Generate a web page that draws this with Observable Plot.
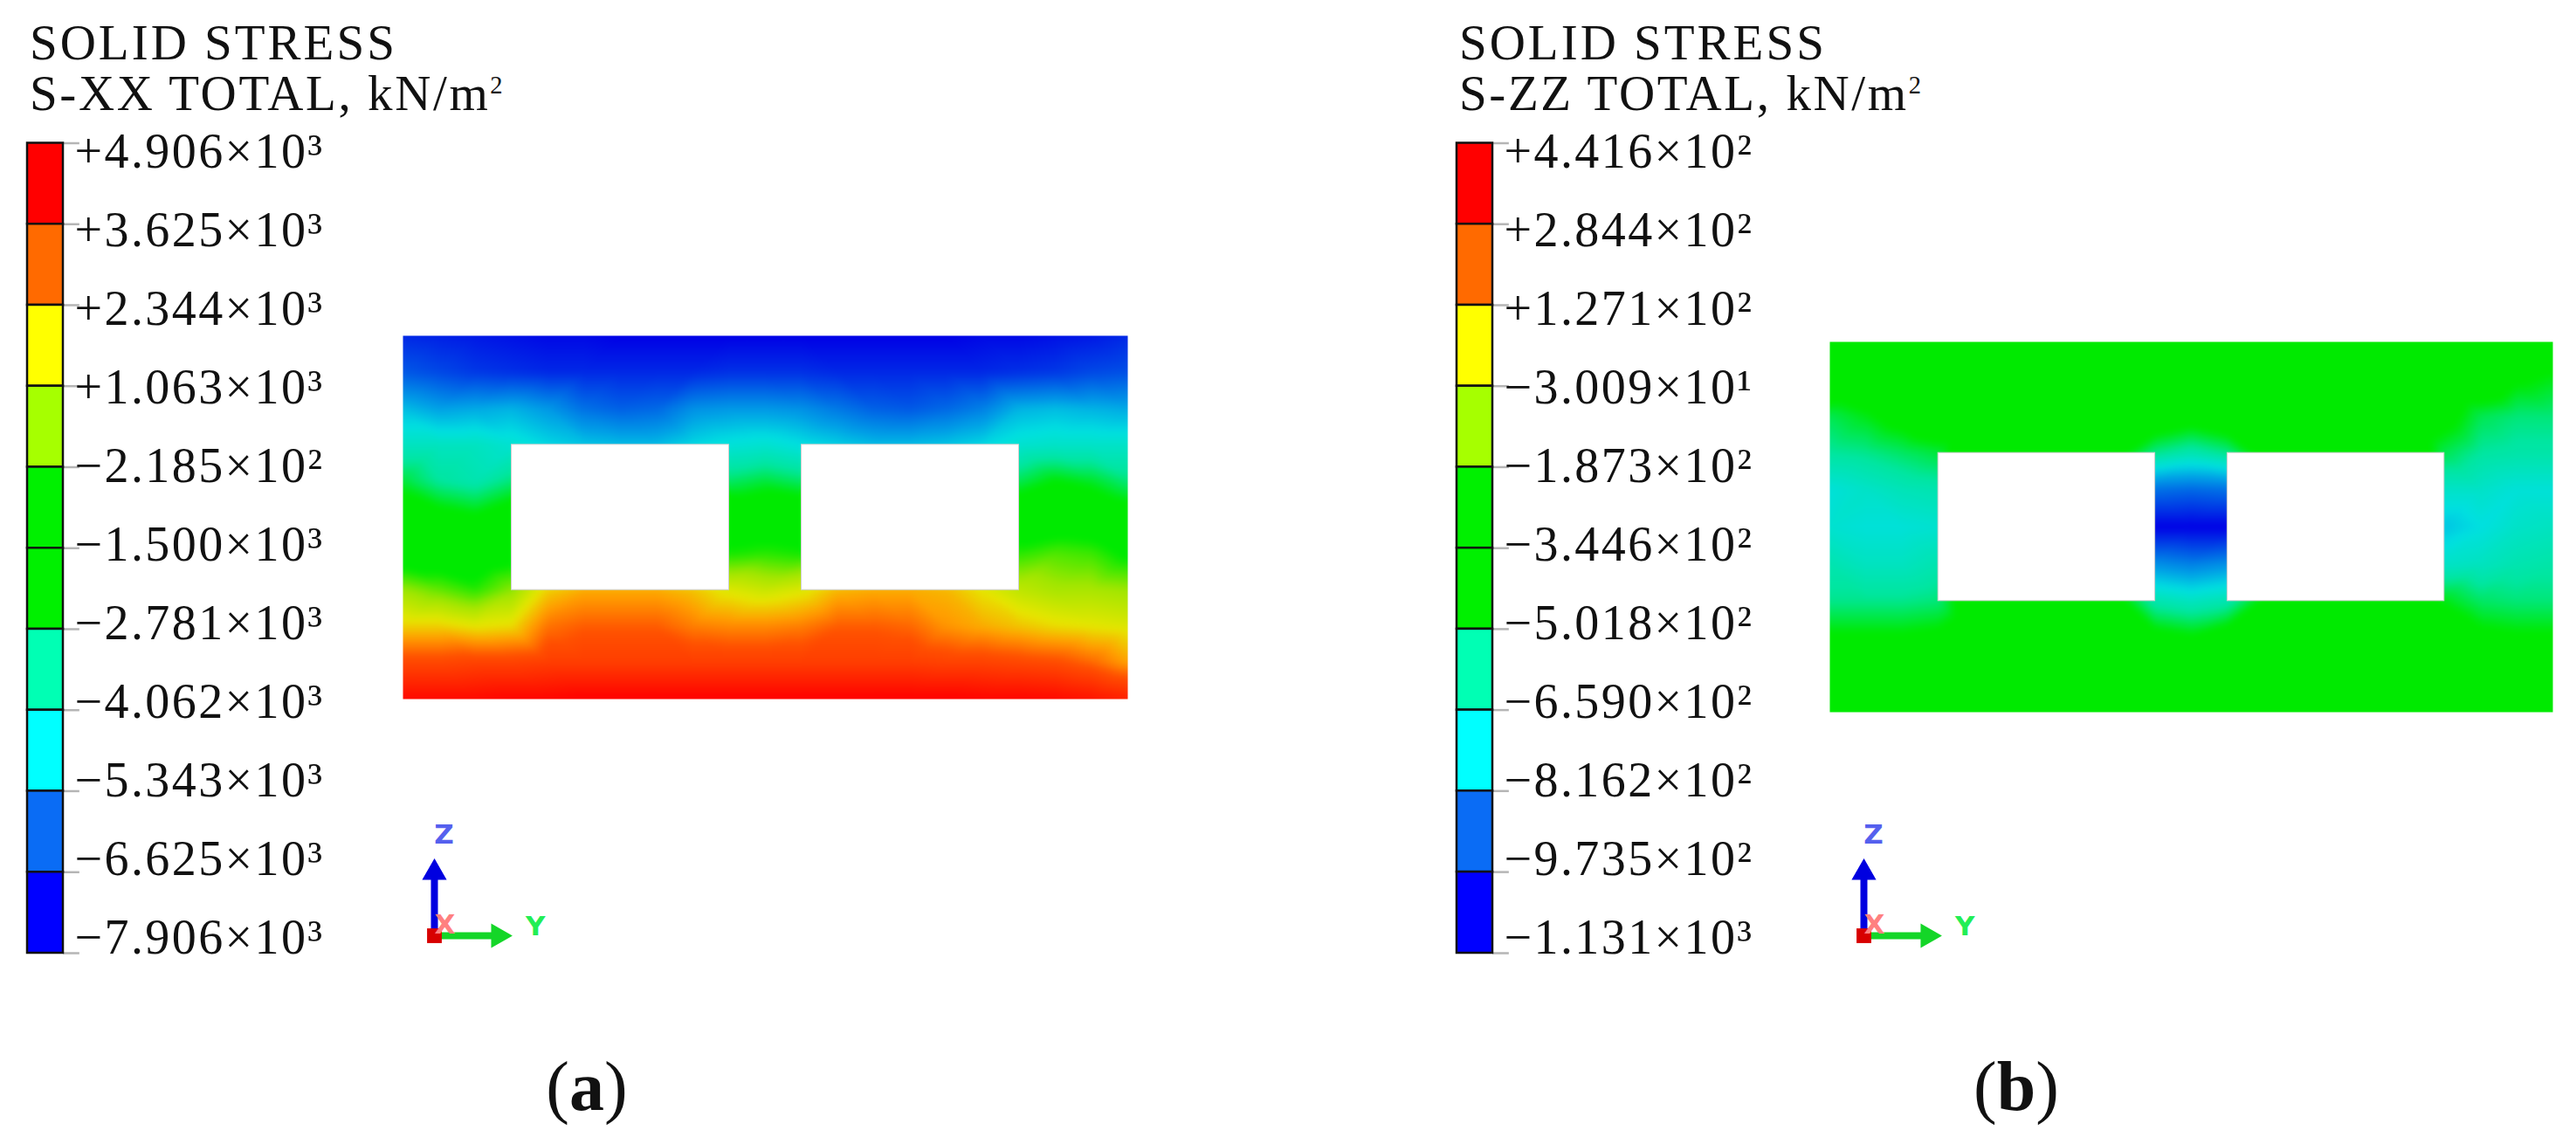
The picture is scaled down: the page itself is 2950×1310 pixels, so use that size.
<!DOCTYPE html>
<html>
<head>
<meta charset="utf-8">
<script src="https://cdn.jsdelivr.net/npm/d3@7"></script>
<script src="https://cdn.jsdelivr.net/npm/@observablehq/plot@0.6"></script>
<style>
html,body{margin:0;background:#fff}
#page{position:relative;width:2950px;height:1310px;overflow:hidden;background:#fff;font-family:"Liberation Serif",serif;color:#111}
.title{position:absolute;top:20px;font-size:57px;line-height:58px;letter-spacing:3px;white-space:nowrap}
.title span{letter-spacing:2.6px}
.title sup{font-size:.5em;line-height:0;vertical-align:.66em;letter-spacing:0}
.cap{position:absolute;top:1204px;width:200px;text-align:center;font-size:80px;line-height:80px}
</style>
</head>
<body>
<div id="page"></div>
<script>
// Legend labels and levels, top to bottom (kN/m²)
const sxxLabels = ["+4.906×10³","+3.625×10³","+2.344×10³","+1.063×10³","−2.185×10²","−1.500×10³","−2.781×10³","−4.062×10³","−5.343×10³","−6.625×10³","−7.906×10³"];
const sxxLevels = [4906,3625,2344,1063,-218.5,-1500,-2781,-4062,-5343,-6625,-7906];
const szzLabels = ["+4.416×10²","+2.844×10²","+1.271×10²","−3.009×10¹","−1.873×10²","−3.446×10²","−5.018×10²","−6.590×10²","−8.162×10²","−9.735×10²","−1.131×10³"];
const szzLevels = [441.6,284.4,127.1,-30.09,-187.3,-344.6,-501.8,-659,-816.2,-973.5,-1131];
const bandColors = ["#ff0000","#ff6a00","#ffff00","#a6ff00","#00f000","#00f000","#00ffb4","#00ffff","#0a6cf5","#0000ff"];

// Model geometry, metres
const modelY = [0,1.5,3,4.5,6,7.5,9,10.5,12,13.5,15,16.5,18,19.5,21,22.5,24,25.5,27,28.5,30];
const modelZ = [15,13.5,12,10.5,9,7.5,6,4.5,3,1.5,0];
const openings = [{y1:4.5,y2:13.5,z1:4.5,z2:10.5},{y1:16.5,y2:25.5,z1:4.5,z2:10.5}];

// Field, as position on the legend (0 = bottom level, 10 = top level). _ = inside an opening.
const _ = null;
const sxxField = [
 [0.5,0.4,0.3,0.2,0.1,0.1,0,0,0,0,0,0,0,0,0,0,0.1,0.1,0.2,0.3,0.5],
 [1.1,0.9,0.7,0.6,0.5,0.5,0.5,0.5,0.5,0.6,0.6,0.6,0.5,0.5,0.5,0.5,0.5,0.6,0.7,0.9,1],
 [2.3,2.0,2.1,2.2,1.9,1.4,1.2,1.3,1.8,1.9,1.9,1.8,1.5,1.2,1.1,1.3,1.6,2.2,2.3,2.2,2.1],
 [3.1,3.1,3.1,2.9,2.6,2.4,2.3,2.3,2.6,2.8,2.9,2.7,2.5,2.3,2.3,2.4,2.6,2.9,3.0,3.0,3.0],
 [4.0,3.5,3.3,3.7,_,_,_,_,_,3.8,4.0,3.8,_,_,_,_,_,3.9,4.3,4.1,3.7],
 [4.8,4.6,4.4,4.8,_,_,_,_,_,5.0,5.0,5.0,_,_,_,_,_,5.0,5.0,5.0,4.7],
 [5.0,5.0,5.0,5.2,_,_,_,_,_,5.6,5.7,5.6,_,_,_,_,_,5.7,5.9,5.8,5.4],
 [6.3,6.0,5.7,6.2,7.2,7.5,7.5,7.5,7.3,6.9,6.7,6.9,7.4,7.5,7.5,7.4,7.0,6.6,6.4,6.4,6.3],
 [7.2,7.2,7.0,7.1,8.0,8.2,8.2,8.2,7.9,7.8,7.8,7.9,8.2,8.2,8.1,7.7,7.5,7.3,7.1,7.0,6.9],
 [8.5,8.5,8.6,8.6,8.7,8.7,8.7,8.7,8.7,8.7,8.7,8.7,8.7,8.7,8.7,8.6,8.6,8.5,8.4,8.1,7.6],
 [9.8,9.8,9.8,9.9,9.9,10,10,10,10,10,10,10,10,10,10,10,9.9,9.9,9.8,9.6,9.3]
];
const szzField = [
 [5,5,5,5,5,5,5,5,5,5,5,5,5,5,5,5,5,5,5,5,5],
 [5,5,5,5,5,5,5,5,5,5,5,5,5,5,5,5,5,5,5,4.4,4.2],
 [3.9,4.2,4.6,5,5,5,5,5,5,5,4.7,5,5,5,5,5,5,4.6,3.9,3.7,3.7],
 [3.5,3.6,3.8,4.0,5,5,5,5,4.5,3.6,3.3,3.6,4.6,5,5,5,5,3.9,3.5,3.4,3.4],
 [2.8,3.0,3.2,3.3,_,_,_,_,_,1.4,1.3,1.4,_,_,_,_,_,3.0,3.0,2.8,2.8],
 [2.9,2.8,2.8,2.9,_,_,_,_,_,0,0,0,_,_,_,_,_,2.4,2.7,3.0,3.1],
 [3.3,3.1,3.1,3.3,_,_,_,_,_,1.8,1.6,1.8,_,_,_,_,_,3.0,3.1,3.3,3.4],
 [3.6,3.6,3.6,3.7,5,5,5,5,4.5,3.3,3.1,3.3,4.4,5,5,5,5,4.2,3.8,3.7,3.7],
 [4.4,4.4,4.4,4.5,5,5,5,5,5,4.6,4.4,4.8,5,5,5,5,5,5,4.5,4.4,4.4],
 [5,5,5,5,5,5,5,5,5,5,5,5,5,5,5,5,5,5,5,5,5],
 [5,5,5,5,5,5,5,5,5,5,5,5,5,5,5,5,5,5,5,5,5]
];

// Contour colour ramp, by legend position
const rampStops = [0,1,2,2.7,3.5,4.3,5.5,6.3,7,7.6,8.3,10];
const rampColors = ["#0000e6","#0050e6","#00a0e6","#00e0e0","#00e6a0","#00ea00","#00ea00","#a0e600","#e6e600","#ffa000","#ff5000","#ff0000"];
const ramp = d3.scaleLinear().domain(rampStops.map(k => k / 10)).range(rampColors).clamp(true);

// Triad
const triadAxes = [{name:"Y",u:1,v:0,color:"#14d628",label:"#22ee55",lx:1.36,ly:0.12},{name:"Z",u:0,v:1,color:"#0000e0",label:"#5560ee",lx:0.13,ly:1.37}];

const page = document.getElementById("page");

function layer(options) {
  const {left = 0, top = 0, ...rest} = options;
  const svg = Plot.plot({margin: 0, ...rest,
    style: {position: "absolute", left: left + "px", top: top + "px", background: "transparent", overflow: "visible", ...(rest.style || {})}});
  page.appendChild(svg);
  return svg;
}

function drawPanel({offset, title, caption, labels, levels, field, plate}) {
  // Heading
  const head = document.createElement("div");
  head.className = "title";
  head.style.left = (34 + offset) + "px";
  head.innerHTML = "SOLID STRESS<br><span>" + title + ", kN/m<sup>2</sup></span>";
  page.appendChild(head);

  // Legend bar
  const bands = d3.range(10).map(i => ({hi: levels[i], lo: levels[i + 1], color: bandColors[i]}));
  layer({
    left: offset, width: 440, height: 1310,
    x: {domain: [0, 1], range: [31, 72], axis: null},
    y: {domain: [levels[10], levels[0]], range: [1091, 163.5], axis: null},
    marks: [
      Plot.ruleY(levels, {x1: 1, x2: 1.46, stroke: "#b5b5b5", strokeWidth: 2.5}),
      Plot.rect(bands, {x1: 0, x2: 1, y1: "lo", y2: "hi", fill: "color", stroke: "#111", strokeWidth: 2.5})
    ]
  });

  // Legend labels
  layer({
    left: offset, width: 440, height: 1310,
    style: {letterSpacing: "2.4px"},
    x: {domain: [0, 1], range: [0, 371], axis: null},
    y: {type: "point", padding: 0, domain: labels, range: [169, 1078], axis: null},
    marks: [
      Plot.text(labels, {x: 1, y: d => d, text: d => d, textAnchor: "end", fontSize: 56,
        fontFamily: "Liberation Serif", fill: "#111"})
    ]
  });

  // Stress field
  const lo = levels[10], hi = levels[0];
  const points = [];
  modelZ.forEach((z, r) => modelY.forEach((y, c) => {
    const k = field[r][c];
    if (k !== null) points.push({y, z, s: lo + k * (hi - lo) / 10});
  }));
  layer({
    left: 0, width: 2950, height: 1310,
    x: {domain: [0, 30], range: [plate.x1, plate.x2], axis: null},
    y: {domain: [0, 15], range: [plate.y2, plate.y1], axis: null},
    color: {type: "linear", domain: [lo, hi], interpolate: ramp},
    marks: [
      Plot.raster(points, {x: "y", y: "z", fill: "s", x1: 0, x2: 30, y1: 0, y2: 15,
        interpolate: "barycentric", pixelSize: 1, blur: 3}),
      Plot.rect(openings, {x1: "y1", x2: "y2", y1: "z1", y2: "z2", fill: "white", stroke: "#cfcfcf", strokeWidth: 1})
    ]
  });

  // Triad
  const triadFont = {fontFamily: "DejaVu Sans", fontSize: 31, fontWeight: 600};
  layer({
    left: offset, width: 700, height: 1310,
    x: {domain: [0, 1], range: [497, 582], axis: null},
    y: {domain: [0, 1], range: [1071, 987], axis: null},
    marks: [
      Plot.link(triadAxes, {x1: 0, y1: 0, x2: d => d.u * 0.8, y2: d => d.v * 0.8, stroke: "color", strokeWidth: 8}),
      Plot.dot(triadAxes, {x: d => d.u * 0.86, y: d => d.v * 0.86, symbol: "triangle", r: 9.5,
        rotate: d => d.u ? 90 : 0, fill: "color", stroke: "color"}),
      Plot.dot([0], {x: 0, y: 0, symbol: "square", r: 9.5, fill: "#d80000"}),
      Plot.text(triadAxes, {x: "lx", y: "ly", text: "name", fill: "label", ...triadFont}),
      Plot.text(["X"], {x: 0.14, y: 0.15, text: d => d, fill: "#ff8080", ...triadFont})
    ]
  });

  // Caption
  const cap = document.createElement("div");
  cap.className = "cap";
  cap.style.left = (572 + offset) + "px";
  cap.innerHTML = "(<b>" + caption + "</b>)";
  page.appendChild(cap);
}

drawPanel({offset: 0, title: "S-XX TOTAL", caption: "a", labels: sxxLabels, levels: sxxLevels, field: sxxField,
  plate: {x1: 461, x2: 1291, y1: 384, y2: 800}});
drawPanel({offset: 1637, title: "S-ZZ TOTAL", caption: "b", labels: szzLabels, levels: szzLevels, field: szzField,
  plate: {x1: 2095, x2: 2923, y1: 391, y2: 815}});
</script>
</body>
</html>
